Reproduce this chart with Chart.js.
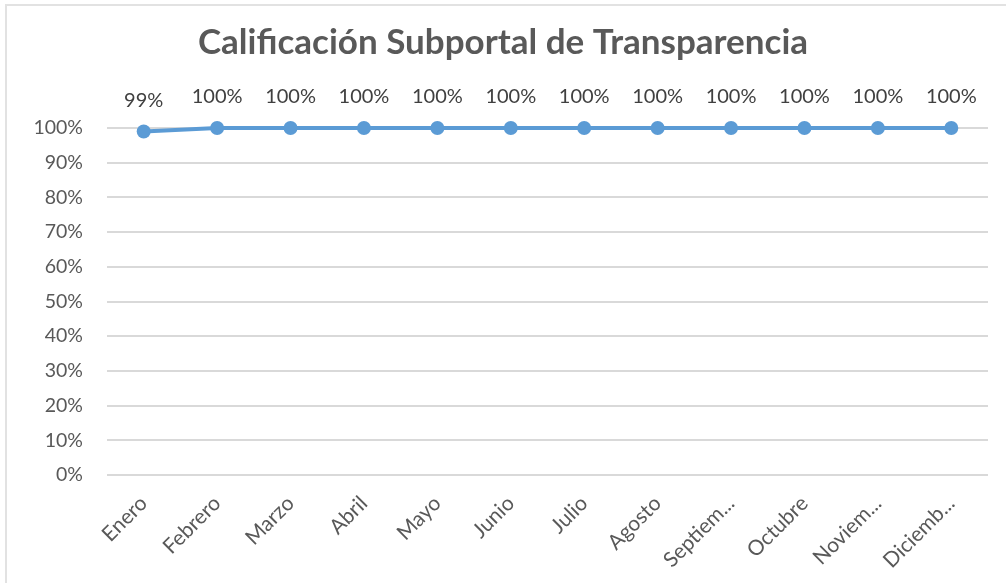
<!DOCTYPE html>
<html>
<head>
<meta charset="utf-8">
<script src="https://cdn.jsdelivr.net/npm/chart.js@4.4.1/dist/chart.umd.min.js"></script>
<style>
  html, body { margin: 0; padding: 0; background: #ffffff; }
  #wrap { position: relative; width: 1006px; height: 584px; }
  #frame { position: absolute; left: 5px; top: 4px; right: 0; bottom: 1px;
           border-left: 2px solid #e2e2e2; border-top: 2px solid #e2e2e2; }
  canvas { position: absolute; left: 0; top: 0; }
</style>
</head>
<body>
<div id="wrap">
  <div id="frame"></div>
  <canvas id="chart" width="1006" height="584"></canvas>
</div>
<script>
// Chart data
const months = ['Enero', 'Febrero', 'Marzo', 'Abril', 'Mayo', 'Junio', 'Julio',
  'Agosto', 'Septiembre', 'Octubre', 'Noviembre', 'Diciembre'];
const scores = [99, 100, 100, 100, 100, 100, 100, 100, 100, 100, 100, 100];
const yTicks = [0, 10, 20, 30, 40, 50, 60, 70, 80, 90, 100];

const lineColor = '#5B9BD5';
const textColor = '#595959';
const xFont = '21px Lato';

// shorten a label that is too wide for its slot, like the spreadsheet does
const measure = document.createElement('canvas').getContext('2d');
measure.font = xFont;
function fitLabel(s, maxW) {
  if (measure.measureText(s).width <= maxW) return s;
  let cut = s;
  while (cut.length > 1 && measure.measureText(cut).width > maxW) cut = cut.slice(0, -1);
  return cut + '...';
}

// Draws the value label above each point
const valueLabels = {
  id: 'valueLabels',
  afterDatasetsDraw(chart) {
    const ctx = chart.ctx;
    const meta = chart.getDatasetMeta(0);
    ctx.save();
    ctx.font = '20px Lato';
    ctx.fillStyle = '#404040';
    ctx.textAlign = 'center';
    ctx.textBaseline = 'middle';
    meta.data.forEach((pt, i) => {
      ctx.fillText(scores[i] + '%', pt.x, pt.y - 31);
    });
    ctx.restore();
  }
};

const ctx = document.getElementById('chart').getContext('2d');
new Chart(ctx, {
  type: 'line',
  data: {
    labels: months,
    datasets: [{
      data: scores,
      borderColor: lineColor,
      backgroundColor: lineColor,
      borderWidth: 4,
      pointRadius: 7,
      pointHoverRadius: 7,
      pointBackgroundColor: lineColor,
      pointBorderWidth: 0,
      tension: 0,
      clip: false
    }]
  },
  options: {
    responsive: false,
    animation: false,
    layout: { padding: { left: 18, right: 18, top: 0, bottom: 0 } },
    plugins: {
      legend: { display: false },
      tooltip: { enabled: false },
      title: {
        display: true,
        text: 'Calificación Subportal de Transparencia',
        color: textColor,
        font: { family: 'Lato', size: 35, weight: 'bold' },
        padding: { top: 22, bottom: 64 }
      }
    },
    scales: {
      x: {
        offset: true,
        grid: { display: false, drawTicks: false },
        border: { display: false },
        ticks: {
          color: textColor,
          font: { family: 'Lato', size: 21 },
          maxRotation: 45,
          minRotation: 45,
          padding: 16,
          callback: function (value) {
            return fitLabel(this.getLabelForValue(value), 80);
          }
        },
        afterFit(scale) { scale.height = 109; }
      },
      y: {
        min: 0,
        max: 100,
        afterBuildTicks(scale) { scale.ticks = yTicks.map(v => ({ value: v })); },
        grid: { color: '#d9d9d9', lineWidth: 2, drawTicks: false },
        border: { display: false },
        ticks: {
          color: textColor,
          font: { family: 'Lato', size: 19.5 },
          padding: 24,
          callback: v => v + '%'
        },
        afterFit(scale) { scale.width = 89; }
      }
    }
  },
  plugins: [valueLabels]
});
</script>
</body>
</html>
